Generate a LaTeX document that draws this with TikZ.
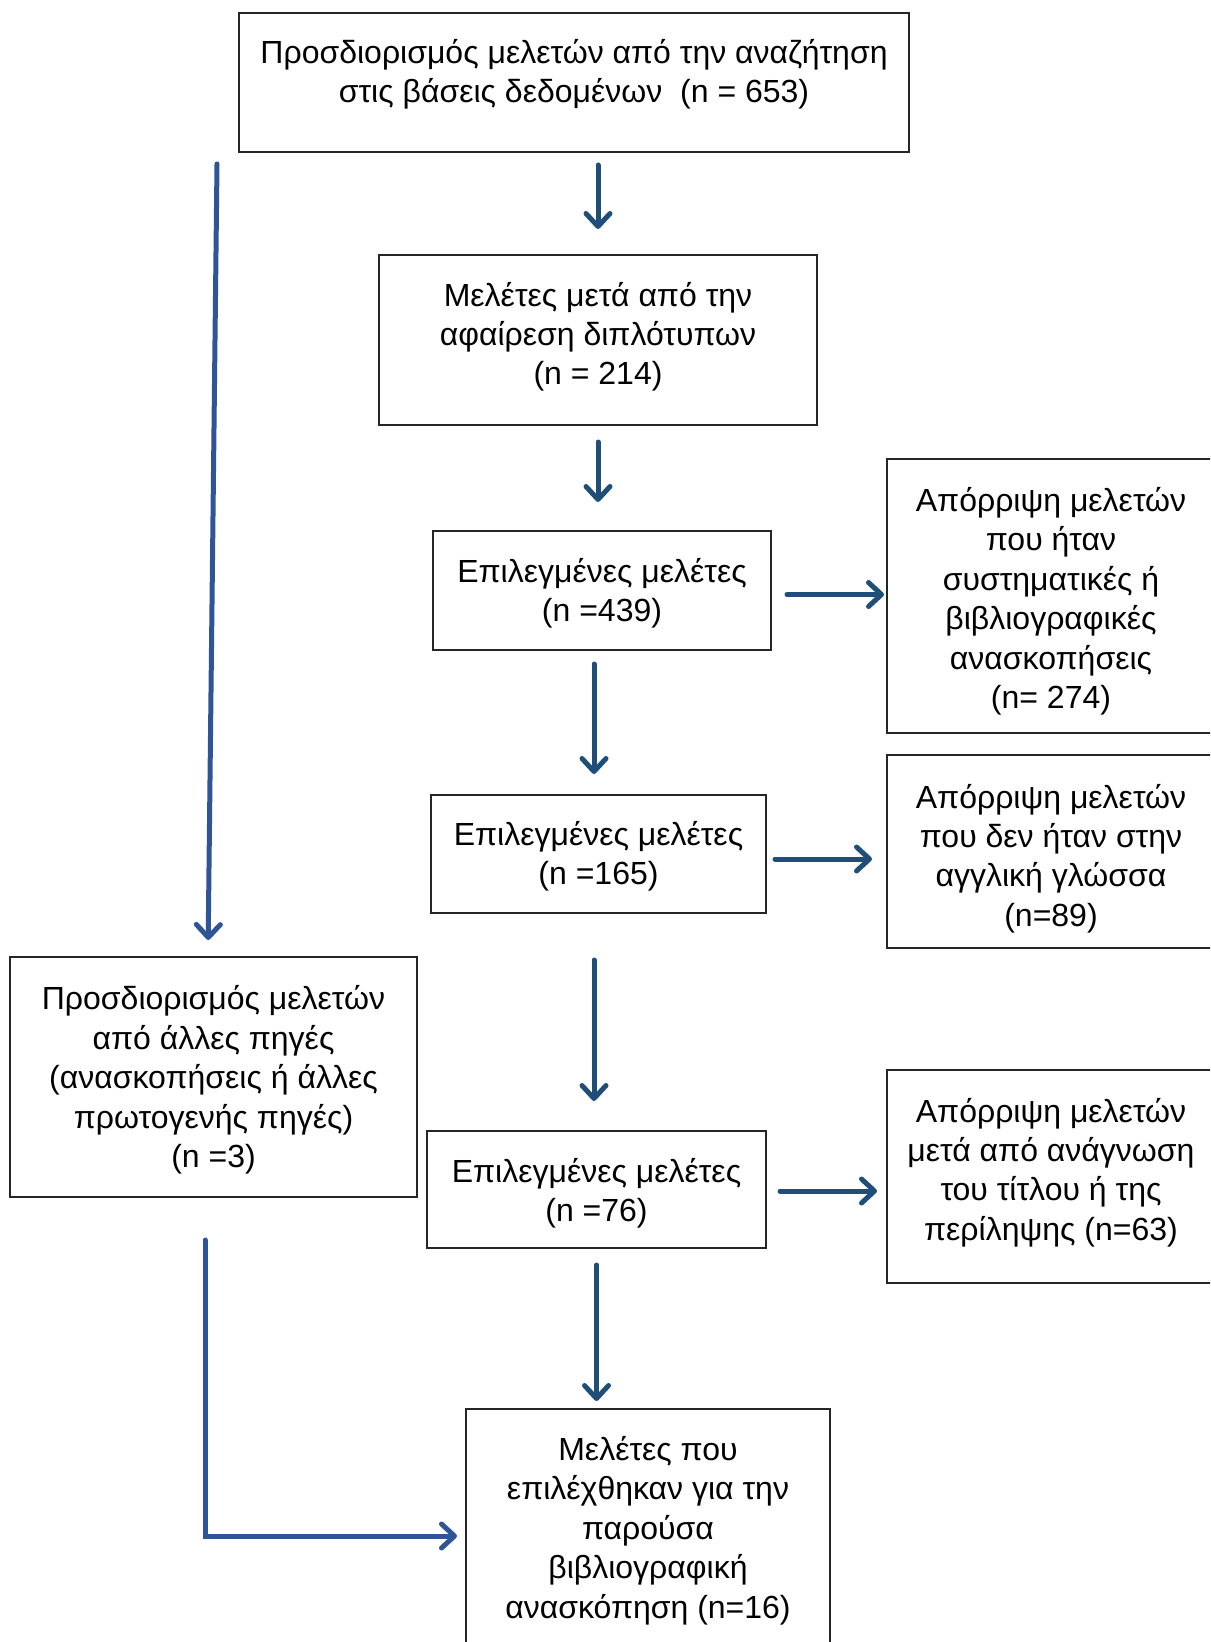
\documentclass[tikz,border=0pt]{standalone}
\usepackage{fontspec}
\setmainfont{Liberation Sans}
\usepackage{tikz}
\usetikzlibrary{arrows.meta, positioning}
\definecolor{arrdark}{RGB}{31,78,121}
\definecolor{arrlight}{RGB}{47,85,151}
\tikzset{
	box/.style={draw=black!85, line width=1pt, inner sep=0pt},
	txt/.style={align=center, inner sep=0pt, font=\fontsize{16pt}{19.7pt}\selectfont},
	arr/.style={draw=arrdark, line width=2.5pt, line cap=round,
		-{Straight Barb[length=6.5pt, width=12pt, round]}},
	arrL/.style={arr, draw=arrlight}
}
% name, x, y, width, height, text shift, text
\newcommand{\flowbox}[7]{
	\node[box, minimum width=#4, minimum height=#5] (#1) at (#2,#3) {};
	\node[txt] (#1-t) at ([yshift=#6]#1.center) {#7};
}

\begin{document}
\begin{tikzpicture}[x=0.5pt, y=-0.5pt]
			\useasboundingbox (0,0) rectangle (1210,1642);
			\clip (0,0) rectangle (1210,1642);
			% Main column
			\flowbox{top}{574}{82.5}{335pt}{69.5pt}{4.2pt}
				{Προσδιορισμός μελετών από την αναζήτηση\\στις βάσεις δεδομένων\ \ (n = 653)}
			\flowbox{dedup}{598}{340}{219pt}{85pt}{1.6pt}
				{Μελέτες μετά από την\\αφαίρεση διπλότυπων\\(n = 214)}
			\flowbox{sel1}{602}{590.5}{169pt}{59.5pt}{-1.5pt}
				{Επιλεγμένες μελέτες\\(n =439)}
			\flowbox{sel2}{598.5}{854}{167.5pt}{59pt}{-1pt}
				{Επιλεγμένες μελέτες\\(n =165)}
			\flowbox{sel3}{596.5}{1189.5}{169.5pt}{58.5pt}{-2pt}
				{Επιλεγμένες μελέτες\\(n =76)}
			\flowbox{final}{648}{1534.5}{182pt}{125.5pt}{2pt}
				{Μελέτες που\\επιλέχθηκαν για την\\παρούσα\\βιβλιογραφική\\ανασκόπηση (n=16)}
			% Other sources
			\flowbox{other}{213.5}{1077}{203.5pt}{120pt}{-1.5pt}
				{Προσδιορισμός μελετών\\από άλλες πηγές\\(ανασκοπήσεις ή άλλες\\πρωτογενής πηγές)\\(n =3)}
			% Exclusions
			\flowbox{excl1}{1051}{596}{164pt}{137pt}{-2.6pt}
				{Απόρριψη μελετών\\που ήταν\\συστηματικές ή\\βιβλιογραφικές\\ανασκοπήσεις\\(n= 274)}
			\flowbox{excl2}{1051}{851.5}{164pt}{96.5pt}{-3.5pt}
				{Απόρριψη μελετών\\που δεν ήταν στην\\αγγλική γλώσσα\\(n=89)}
			\flowbox{excl3}{1051}{1176.5}{164pt}{106.5pt}{2pt}
				{Απόρριψη μελετών\\μετά από ανάγνωση\\του τίτλου ή της\\περίληψης (n=63)}
			% Arrows down
			\draw[arr, shorten <=6pt, shorten >=12.5pt] (top.south -| dedup) -- (dedup.north);
			\draw[arr, shorten <=8pt, shorten >=14pt] (dedup.south) -- (dedup.south |- sel1.north);
			\draw[arr, shorten <=6.5pt, shorten >=10pt] ([xshift=-2.25pt]sel2.north |- sel1.south) -- ([xshift=-2.25pt]sel2.north);
			\draw[arr, shorten <=23pt, shorten >=14.5pt] ([xshift=-2.25pt]sel2.south) -- ([xshift=-2.25pt]sel2.south |- sel3.north);
			\draw[arr, shorten <=8pt, shorten >=3.5pt] (sel3.south) -- (sel3.south |- final.north);
			% Arrows right
			\draw[arr, shorten <=7.5pt, shorten >=1pt] ([yshift=-2pt]sel1.east) -- ([yshift=-2pt]sel1.east -| excl1.west);
			\draw[arr, shorten <=4pt, shorten >=7pt] ([yshift=-2.5pt]sel2.east) -- ([yshift=-2.5pt]sel2.east -| excl2.west);
			\draw[arr, shorten <=6.5pt, shorten >=4.5pt] ([yshift=-0.75pt]sel3.east) -- ([yshift=-0.75pt]sel3.east -| excl3.west);
			% Left side
			\coordinate (srcL) at (217,164);
			\draw[arrL, shorten >=8pt] (srcL) -- ([xshift=-2.75pt]other.north);
			\draw[arrL, shorten >=4pt] ([xshift=-4.25pt, yshift=-21pt]other.south) |- ([yshift=-0.75pt]final.west);
\end{tikzpicture}
\end{document}
